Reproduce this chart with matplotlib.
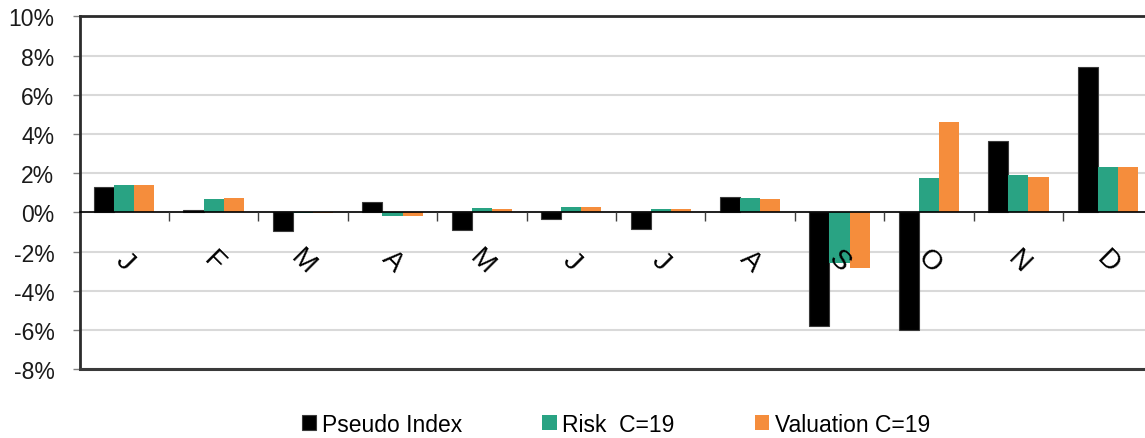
import matplotlib
matplotlib.use("Agg")
import matplotlib.pyplot as plt
import numpy as np
from matplotlib.ticker import FuncFormatter, FixedLocator

plt.rcParams['font.family'] = ['Liberation Sans', 'DejaVu Sans']

# Monthly returns, in percent
months = ["J", "F", "M", "A", "M", "J", "J", "A", "S", "O", "N", "D"]
pseudo_index = [1.31, 0.12, -0.94, 0.54, -0.90, -0.33, -0.87, 0.77, -5.82, -6.00, 3.62, 7.41]
risk_c19 = [1.41, 0.66, -0.05, -0.20, 0.22, 0.27, 0.17, 0.71, -2.59, 1.75, 1.90, 2.31]
valuation_c19 = [1.41, 0.71, -0.02, -0.17, 0.17, 0.25, 0.15, 0.66, -2.84, 4.59, 1.79, 2.31]

series_names = ["Pseudo Index", "Risk  C=19", "Valuation C=19"]
series_colors = ["#000000", "#29A383", "#F58D3C"]
y_ticks = [-8, -6, -4, -2, 0, 2, 4, 6, 8, 10]

W, H = 1145, 439
fig = plt.figure(figsize=(W / 100, H / 100), dpi=100)
ax = fig.add_axes([79.5 / W, (H - 370.1) / H, 1073 / W, 352.8 / H])

x = np.arange(len(months))
bw = 0.225
handles = []
for k, (vals, name, col) in enumerate(zip([pseudo_index, risk_c19, valuation_c19],
                                           series_names, series_colors)):
    ec = "#3a3a3a" if k == 0 else col
    b = ax.bar(x + (k - 1) * bw, vals, width=bw, color=col, edgecolor=ec,
               linewidth=0.8 if k == 0 else 0, label=name, zorder=2)
    handles.append(b)

ax.set_xlim(-0.5, len(months) - 0.5)
ax.set_ylim(y_ticks[0], y_ticks[-1])

# y axis
ax.set_yticks(y_ticks)
ax.yaxis.set_major_formatter(FuncFormatter(lambda v, p: f"{v:.0f}%"))
ax.tick_params(axis='y', length=5, width=1, color='#808080', pad=13,
               labelsize=16.5, labelcolor='#1a1a1a')
ax.yaxis.grid(True, color='#d9d9d9', linewidth=1.5)
ax.set_axisbelow(True)
ax.xaxis.set_zorder(4)

# x axis drawn along the zero line, with category boundary ticks
ax.spines['bottom'].set_position(('data', 0))
ax.spines['bottom'].set_linewidth(1.2)
ax.spines['bottom'].set_color('#000000')
ax.spines['bottom'].set_zorder(3)
ax.set_xticks(x)
ax.set_xticklabels(months, rotation=-45, rotation_mode='anchor',
                   ha='center', va='center', fontsize=20)
ax.xaxis.set_minor_locator(FixedLocator(np.arange(0.5, len(months) - 0.5, 1.0)))
ax.tick_params(axis='x', which='major', length=0, pad=35)
ax.tick_params(axis='x', which='minor', length=6.5, width=1, color='#404040',
               direction='out')

# outer frame
for side in ('left', 'top'):
    ax.spines[side].set_linewidth(2)
    ax.spines[side].set_color('#2b2b2b')
ax.spines['right'].set_visible(False)
ax.axhline(y_ticks[0], color='#3a3a3a', linewidth=2.2, clip_on=False, zorder=3)

leg = ax.legend(handles=handles, loc='center', bbox_to_anchor=(0.5, -0.156),
                ncol=3, frameon=False, fontsize=16.5, handlelength=0.62,
                handleheight=0.62, handletextpad=0.25, columnspacing=3.5,
                borderaxespad=0)

fig.savefig("out.png", dpi=100)
